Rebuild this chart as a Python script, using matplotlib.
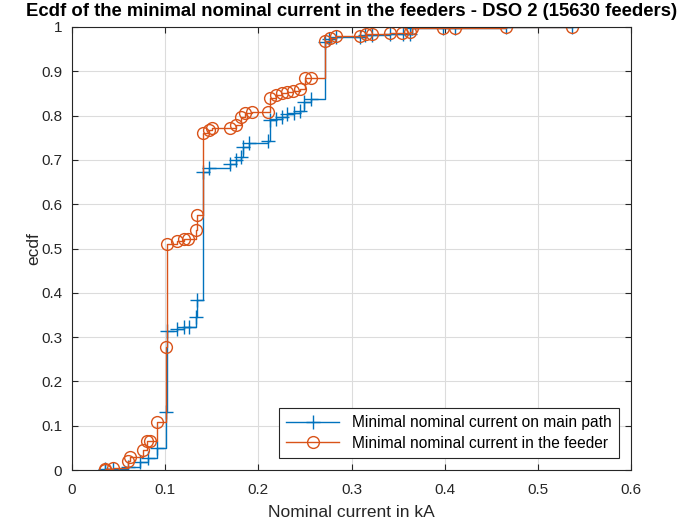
import matplotlib
matplotlib.use('Agg')
import matplotlib.pyplot as plt

plt.rcParams['font.family'] = ['Liberation Sans', 'DejaVu Sans']

# ECDF of minimal nominal current on main path (kA, F)
main_x = [0.0354, 0.0354, 0.044, 0.060, 0.073, 0.082, 0.091, 0.101, 0.102, 0.113,
          0.120, 0.126, 0.133, 0.134, 0.1406, 0.147, 0.170, 0.176, 0.181, 0.184,
          0.190, 0.210, 0.212, 0.219, 0.225, 0.231, 0.238, 0.245, 0.249, 0.256,
          0.2716, 0.276, 0.283, 0.309, 0.3145, 0.322, 0.341, 0.355, 0.363, 0.365,
          0.398, 0.411, 0.466, 0.537]
main_f = [0.0, 0.002, 0.003, 0.007, 0.018, 0.027, 0.05, 0.13, 0.314, 0.318,
          0.323, 0.323, 0.345, 0.383, 0.673, 0.682, 0.69, 0.70, 0.707, 0.73,
          0.738, 0.743, 0.79, 0.792, 0.797, 0.804, 0.806, 0.81, 0.83, 0.837,
          0.966, 0.973, 0.977, 0.977, 0.982, 0.982, 0.984, 0.984, 0.984, 0.997,
          0.997, 0.998, 0.999, 1.0]

# ECDF of minimal nominal current in the feeder
feeder_x = [0.0354, 0.0354, 0.044, 0.060, 0.062, 0.076, 0.080, 0.084, 0.091, 0.101,
            0.102, 0.113, 0.120, 0.125, 0.133, 0.134, 0.1406, 0.147, 0.150, 0.170,
            0.176, 0.181, 0.186, 0.193, 0.210, 0.212, 0.219, 0.225, 0.231, 0.237,
            0.245, 0.250, 0.256, 0.2716, 0.277, 0.283, 0.309, 0.316, 0.322, 0.341,
            0.354, 0.363, 0.365, 0.398, 0.411, 0.466, 0.537]
feeder_f = [0.0, 0.002, 0.005, 0.02, 0.03, 0.045, 0.065, 0.065, 0.108, 0.278,
            0.51, 0.517, 0.521, 0.521, 0.542, 0.575, 0.761, 0.768, 0.772, 0.772,
            0.779, 0.797, 0.806, 0.808, 0.808, 0.84, 0.847, 0.851, 0.853, 0.856,
            0.86, 0.885, 0.885, 0.968, 0.975, 0.98, 0.98, 0.984, 0.984, 0.986,
            0.986, 0.988, 0.997, 0.997, 0.998, 0.999, 1.0]

xticks = [0, 0.1, 0.2, 0.3, 0.4, 0.5, 0.6]
yticks = [0, 0.1, 0.2, 0.3, 0.4, 0.5, 0.6, 0.7, 0.8, 0.9, 1]

fig = plt.figure(figsize=(6.97, 5.28), dpi=100)
ax = fig.add_axes([72 / 697, 58 / 528, 559 / 697, 443 / 528])

ax.plot(main_x, main_f, drawstyle='steps-post', color='#0072BD', lw=1.0,
        marker='+', markersize=10, markeredgewidth=1.0,
        label='Minimal nominal current on main path')
ax.plot(feeder_x, feeder_f, drawstyle='steps-post', color='#D95319', lw=1.0,
        marker='o', markersize=8.5, markerfacecolor='none', markeredgewidth=1.0,
        label='Minimal nominal current in the feeder')

ax.set_xlim(0, 0.6)
ax.set_ylim(0, 1)
ax.set_xticks(xticks)
ax.set_yticks(yticks)
ax.set_xticklabels([f'{v:g}' for v in xticks])
ax.set_yticklabels([f'{v:g}' for v in yticks])
ax.grid(True, color='#dcdcdc', lw=0.8)
ax.set_axisbelow(True)
ax.tick_params(direction='in', top=True, right=True, labelsize=11,
               colors='#262626', length=4)
ax.tick_params(axis='x', pad=9)
ax.tick_params(axis='y', pad=7)
for s in ax.spines.values():
    s.set_color('#262626')
    s.set_linewidth(0.8)

ax.set_title('Ecdf of the minimal nominal current in the feeders - DSO 2 (15630 feeders)',
             fontsize=13.3, fontweight='bold', pad=8)
ax.set_xlabel('Nominal current in kA', fontsize=12.5, color='#262626', labelpad=6)
ax.set_ylabel('ecdf', fontsize=12.5, color='#262626', labelpad=0)

leg = ax.legend(loc='lower right', fontsize=11.2, fancybox=False, framealpha=1,
                edgecolor='#262626', borderaxespad=0.8, handlelength=3.4,
                labelspacing=0.35, borderpad=0.45)
leg.get_frame().set_linewidth(0.8)

fig.savefig('out.png', dpi=100)
